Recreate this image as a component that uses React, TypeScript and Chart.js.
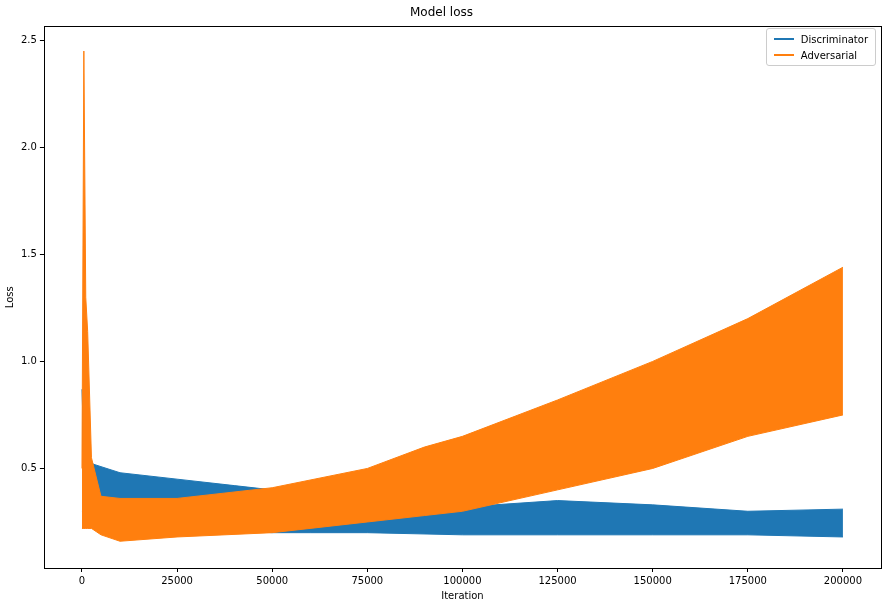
import React, { useEffect, useRef } from "react";
import { Chart, registerables } from "chart.js";
Chart.register(...registerables);

// Envelope of the noisy loss curves
const discX = [0, 300, 1500, 3000, 10000, 25000, 40000, 50000, 60000, 75000, 100000, 125000, 150000, 175000, 200000];
const discUpper = [0.87, 0.7, 0.55, 0.52, 0.48, 0.45, 0.42, 0.4, 0.36, 0.3, 0.32, 0.35, 0.33, 0.3, 0.31];
const discLower = [0.3, 0.3, 0.3, 0.3, 0.28, 0.24, 0.21, 0.2, 0.2, 0.2, 0.19, 0.19, 0.19, 0.19, 0.18];

const advX = [0, 500, 1000, 1500, 2500, 5000, 10000, 25000, 50000, 75000, 90000, 100000, 125000, 150000, 175000, 200000];
const advUpper = [0.5, 2.45, 1.3, 1.14, 0.55, 0.37, 0.36, 0.36, 0.41, 0.5, 0.6, 0.65, 0.82, 1.0, 1.2, 1.44];
const advLower = [0.22, 0.22, 0.22, 0.22, 0.22, 0.19, 0.16, 0.18, 0.2, 0.25, 0.28, 0.3, 0.4, 0.5, 0.65, 0.75];

const xTicks = [0, 25000, 50000, 75000, 100000, 125000, 150000, 175000, 200000];
const yTicks = [0.5, 1.0, 1.5, 2.0, 2.5];

const BLUE = "#1f77b4";
const ORANGE = "#ff7f0e";

const pts = (xs: number[], ys: number[]) => xs.map((x, i) => ({ x, y: ys[i] }));

export default function App() {
  const ref = useRef<HTMLCanvasElement>(null);
  useEffect(() => {
    const font = { family: "DejaVu Sans", size: 10 };
    const frame = {
      id: "frame",
      afterDraw(c: any) {
        const a = c.chartArea;
        const ctx = c.ctx;
        ctx.save();
        ctx.strokeStyle = "#000";
        ctx.lineWidth = 1;
        ctx.strokeRect(Math.round(a.left) + 0.5, Math.round(a.top) + 0.5, Math.round(a.right - a.left), Math.round(a.bottom - a.top));
        ctx.restore();
      },
    };
    const ch = new Chart(ref.current!, {
      type: "line",
      data: {
        datasets: [
          { data: pts(advX, advLower), borderColor: ORANGE, backgroundColor: ORANGE, borderWidth: 1, pointRadius: 0, fill: false },
          { data: pts(advX, advUpper), borderColor: ORANGE, backgroundColor: ORANGE, borderWidth: 1, pointRadius: 0, fill: "-1" },
          { data: pts(discX, discLower), borderColor: BLUE, backgroundColor: BLUE, borderWidth: 1, pointRadius: 0, fill: false },
          { data: pts(discX, discUpper), borderColor: BLUE, backgroundColor: BLUE, borderWidth: 1, pointRadius: 0, fill: "-1" },
        ],
      },
      options: {
        responsive: false,
        animation: false,
        layout: { padding: { top: 0, right: 7, bottom: 2, left: 2 } },
        plugins: {
          legend: { display: false },
          tooltip: { enabled: false },
          title: { display: true, text: "Model loss", color: "#000", font: { family: "DejaVu Sans", size: 12, weight: "normal" }, padding: { top: 6, bottom: 6 } },
        },
        scales: {
          x: {
            type: "linear", min: -10000, max: 210000,
            afterBuildTicks: (s: any) => { s.ticks = xTicks.map((v) => ({ value: v })); },
            ticks: { color: "#000", font, maxRotation: 0, callback: (v: any) => String(v) },
            grid: { drawOnChartArea: false, tickLength: 4, color: "#000" },
            border: { display: false },
            title: { display: true, text: "Iteration", color: "#000", font, padding: 0 },
          },
          y: {
            type: "linear", min: 0.035, max: 2.565,
            afterBuildTicks: (s: any) => { s.ticks = yTicks.map((v) => ({ value: v })); },
            ticks: { color: "#000", font, callback: (v: any) => Number(v).toFixed(1) },
            grid: { drawOnChartArea: false, tickLength: 4, color: "#000" },
            border: { display: false },
            title: { display: true, text: "Loss", color: "#000", font, padding: 2 },
          },
        },
      },
      plugins: [frame],
    } as any);
    return () => ch.destroy();
  }, []);
  const item = (color: string, label: string) => (
    <div style={{ display: "flex", alignItems: "center", height: 16 }}>
      <span style={{ display: "inline-block", width: 20, height: 2, background: color, marginRight: 7 }} />
      <span>{label}</span>
    </div>
  );
  return (
    <div style={{ position: "absolute", left: 0, top: 0, width: 888, height: 604, background: "#fff" }}>
      <canvas ref={ref} width={888} height={604} />
      <div style={{ position: "absolute", right: 12, top: 28, border: "1px solid #ccc", borderRadius: 3, padding: "2px 7px", background: "rgba(255,255,255,0.8)", fontFamily: "DejaVu Sans", fontSize: 10, color: "#000" }}>
        {item(BLUE, "Discriminator")}
        {item(ORANGE, "Adversarial")}
      </div>
    </div>
  );
}
